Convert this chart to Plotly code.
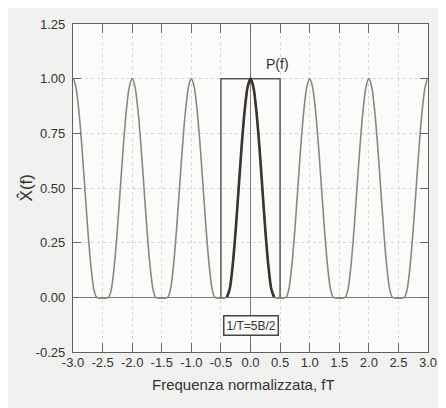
import plotly.graph_objects as go

# ---- data ----
pulse_centers = [-3, -2, -1, 0, 1, 2, 3]
pulse_offsets = [-0.40, -0.35, -0.30, -0.25, -0.20, -0.15, -0.10, -0.05, 0.00,
                 0.05, 0.10, 0.15, 0.20, 0.25, 0.30, 0.35, 0.40]
pulse_values = [0.00, 0.04, 0.15, 0.31, 0.50, 0.69, 0.85, 0.96, 1.00,
                0.96, 0.85, 0.69, 0.50, 0.31, 0.15, 0.04, 0.00]
rect_x = [-0.5, -0.5, 0.5, 0.5]
rect_y = [0.0, 1.0, 1.0, 0.0]
x_ticks = [-3.0, -2.5, -2.0, -1.5, -1.0, -0.5, 0.0, 0.5, 1.0, 1.5, 2.0, 2.5, 3.0]
x_tick_labels = ["-3.0", "-2.5", "-2.0", "-1.5", "-1.0", "-0.5", "0.0", "0.5",
                 "1.0", "1.5", "2.0", "2.5", "3.0"]
y_ticks = [-0.25, 0.0, 0.25, 0.5, 0.75, 1.0, 1.25]
y_tick_labels = ["-0.25", "0.00", "0.25", "0.50", "0.75", "1.00", "1.25"]

# periodic replica curve
rep_x, rep_y = [], []
for c in pulse_centers:
    for o, v in zip(pulse_offsets, pulse_values):
        rep_x.append(c + o)
        rep_y.append(v)
cen_x = [0 + o for o in pulse_offsets]
cen_y = list(pulse_values)

FONT = "Liberation Sans Narrow, Liberation Sans, Arial, sans-serif"

fig = go.Figure()
fig.add_trace(go.Scatter(x=rep_x, y=rep_y, mode="lines",
                         line=dict(color="#8e8581", width=1.6, shape="spline", smoothing=0.7),
                         hoverinfo="skip", showlegend=False))
fig.add_trace(go.Scatter(x=rect_x, y=rect_y, mode="lines",
                         line=dict(color="#5e5654", width=1.5),
                         hoverinfo="skip", showlegend=False))
fig.add_trace(go.Scatter(x=cen_x, y=cen_y, mode="lines",
                         line=dict(color="#3c3230", width=2.6, shape="spline", smoothing=0.7),
                         hoverinfo="skip", showlegend=False))

fig.add_annotation(x=0.46, y=1.065, xref="x", yref="y", text="P(f)",
                   showarrow=False, font=dict(family=FONT, size=14, color="#333"))
fig.add_annotation(x=0.0, y=-0.13, xref="x", yref="y", text="1/T=5B/2",
                   showarrow=False, font=dict(family=FONT, size=12, color="#333"),
                   bordercolor="#444", borderwidth=1.5, borderpad=2,
                   bgcolor="#fbfbfa")
fig.add_annotation(x=-0.165, y=0.5, xref="paper", yref="y", text="X\u0302(f)",
                   textangle=-90, showarrow=False,
                   font=dict(family=FONT, size=17, color="#333"))
fig.add_annotation(x=0.481, y=-0.132, xref="paper", yref="paper",
                   text="Frequenza normalizzata, fT", showarrow=False,
                   font=dict(family="Liberation Sans, Arial, sans-serif", size=15, color="#333"))

fig.update_xaxes(range=[-3, 3], tickvals=x_ticks, ticktext=x_tick_labels,
                 ticks="inside", ticklen=9, tickcolor="#666", tickwidth=1,
                 showline=True, linecolor="#5f5f5f", linewidth=1.3, mirror="ticks",
                 showgrid=True, gridcolor="#d6d6d6", griddash="dot", gridwidth=1,
                 zeroline=True, zerolinecolor="#7a7a7a", zerolinewidth=1.2,
                 ticklabeloverflow="allow", ticklabelstandoff=-2,
                 tickfont=dict(family=FONT, size=13, color="#333"))
fig.update_yaxes(range=[-0.25, 1.25], tickvals=y_ticks, ticktext=y_tick_labels,
                 ticks="inside", ticklen=8, tickcolor="#666", tickwidth=1,
                 showline=True, linecolor="#5f5f5f", linewidth=1.3, mirror="ticks",
                 showgrid=True, gridcolor="#d6d6d6", griddash="dot", gridwidth=1,
                 zeroline=True, zerolinecolor="#7a7a7a", zerolinewidth=1.4,
                 ticklabeloverflow="allow", ticklabelstandoff=4,
                 tickfont=dict(family=FONT, size=13, color="#333"))

# page body has an 8px default margin, so the figure is sized to land where the reference is
fig.update_layout(width=438, height=400,
                  margin=dict(l=65, r=9, t=10, b=56),
                  paper_bgcolor="#f1f1ef", plot_bgcolor="#fbfbfa",
                  showlegend=False)

fig.write_html("out.html")
